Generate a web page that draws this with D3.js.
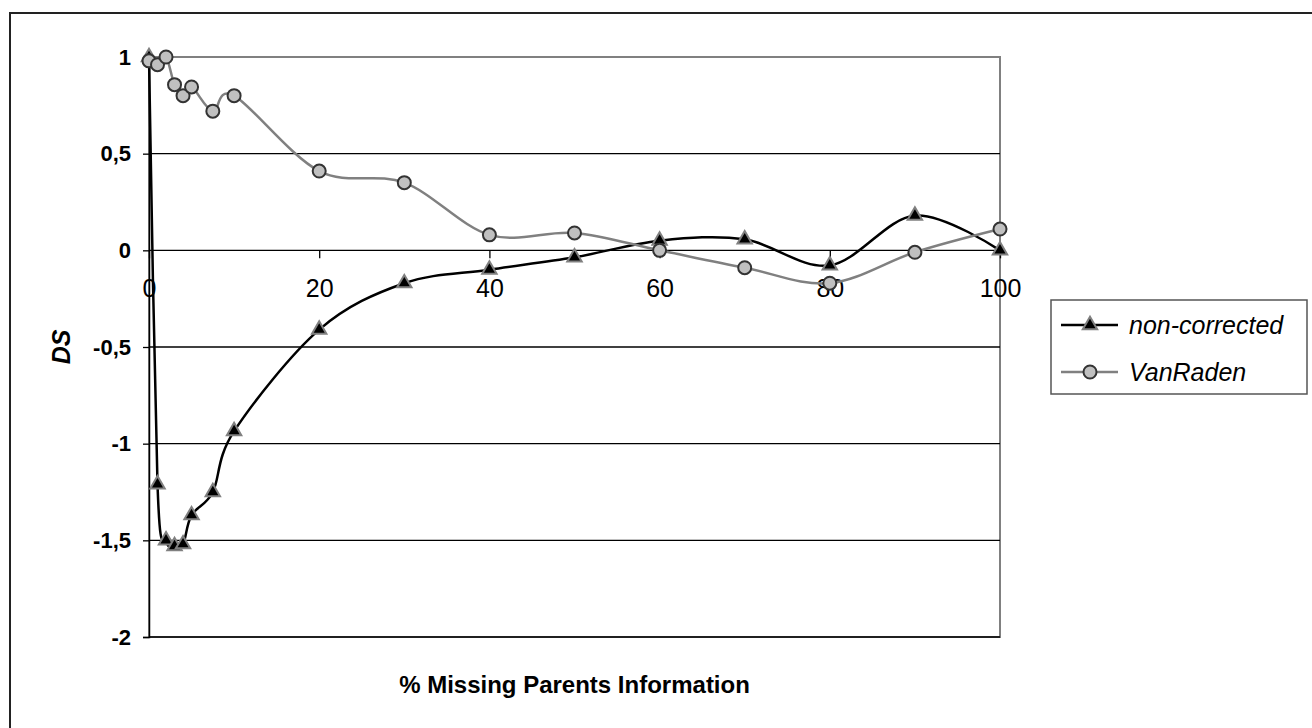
<!DOCTYPE html>
<html>
<head>
<meta charset="utf-8">
<script src="https://cdn.jsdelivr.net/npm/d3@7"></script>
<style>
  html, body { margin: 0; padding: 0; background: #fff; }
  svg { display: block; font-family: "Liberation Sans", Arial, sans-serif; }
</style>
</head>
<body>
<div id="chart"></div>
<script>
// % missing parents information
const xValues = [0, 1, 2, 3, 4, 5, 7.5, 10, 20, 30, 40, 50, 60, 70, 80, 90, 100];
const nonCorrected = [1.0, -1.21, -1.50, -1.53, -1.52, -1.37, -1.25, -0.935, -0.41, -0.17, -0.10, -0.036, 0.05, 0.057, -0.078, 0.18, 0.0];
const vanRaden = [0.98, 0.96, 1.0, 0.857, 0.80, 0.845, 0.72, 0.80, 0.41, 0.35, 0.08, 0.09, 0.0, -0.09, -0.17, -0.01, 0.11];
const xTicks = [0, 20, 40, 60, 80, 100];
const yTicks = [1, 0.5, 0, -0.5, -1, -1.5, -2];
const seriesNames = ['non-corrected', 'VanRaden'];

const width = 1312, height = 728;
const plot = { left: 149, right: 1000, top: 57, bottom: 637 };

const svg = d3.select('#chart').append('svg')
    .attr('width', width)
    .attr('height', height);

// outer chart border
svg.append('rect')
    .attr('x', 10).attr('y', 13)
    .attr('width', width + 10).attr('height', height + 10)
    .attr('fill', 'none')
    .attr('stroke', '#222')
    .attr('stroke-width', 2);

const x = d3.scaleLinear().domain([0, 100]).range([plot.left, plot.right]);
const y = d3.scaleLinear().domain([-2, 1]).range([plot.bottom, plot.top]);

// plot area border (grey)
svg.append('rect')
    .attr('x', plot.left).attr('y', plot.top)
    .attr('width', plot.right - plot.left).attr('height', plot.bottom - plot.top)
    .attr('fill', 'none')
    .attr('stroke', '#808080')
    .attr('stroke-width', 2);

// horizontal gridlines
svg.append('g')
    .selectAll('line')
    .data(yTicks.filter(d => d !== 1))
    .join('line')
    .attr('x1', plot.left).attr('x2', plot.right)
    .attr('y1', d => y(d)).attr('y2', d => y(d))
    .attr('stroke', '#000')
    .attr('stroke-width', 1.3);

// y axis
const fmt = d => String(d).replace('.', ',');
const yAxis = svg.append('g')
    .attr('transform', `translate(${plot.left},0)`)
    .call(d3.axisLeft(y).tickValues(yTicks).tickSize(6).tickPadding(12).tickFormat(fmt));
yAxis.select('.domain').attr('stroke', '#000').attr('stroke-width', 1.5);
yAxis.selectAll('.tick line').attr('stroke', '#000').attr('stroke-width', 1.3);
yAxis.selectAll('.tick text')
    .attr('fill', '#000')
    .attr('font-size', 22)
    .attr('font-weight', 'bold')
    .attr('font-family', '"Liberation Sans", Arial, sans-serif');

// x axis crossing at 0
const xAxis = svg.append('g')
    .attr('transform', `translate(0,${y(0)})`)
    .call(d3.axisBottom(x).tickValues(xTicks).tickSize(8).tickPadding(21).tickFormat(d3.format('d')));
xAxis.select('.domain').remove();
xAxis.selectAll('.tick line').attr('stroke', '#000').attr('stroke-width', 1.3);
xAxis.selectAll('.tick text')
    .attr('fill', '#000')
    .attr('font-size', 25)
    .attr('font-family', '"Liberation Sans", Arial, sans-serif');

// lines
const line = (vals) => d3.line()
    .x((d, i) => x(xValues[i]))
    .y(d => y(d))
    .curve(d3.curveCardinal.tension(0))(vals);

svg.append('path')
    .attr('d', line(nonCorrected))
    .attr('fill', 'none')
    .attr('stroke', '#000')
    .attr('stroke-width', 2.5);

const tri = d3.symbol().type(d3.symbolTriangle).size(90);
svg.append('g')
    .selectAll('path')
    .data(nonCorrected)
    .join('path')
    .attr('d', tri)
    .attr('transform', (d, i) => `translate(${x(xValues[i])},${y(d)})`)
    .attr('fill', '#000')
    .attr('stroke', '#808080')
    .attr('stroke-width', 2);

svg.append('path')
    .attr('d', line(vanRaden))
    .attr('fill', 'none')
    .attr('stroke', '#808080')
    .attr('stroke-width', 2.5);

svg.append('g')
    .selectAll('circle')
    .data(vanRaden)
    .join('circle')
    .attr('cx', (d, i) => x(xValues[i]))
    .attr('cy', d => y(d))
    .attr('r', 6.5)
    .attr('fill', '#c0c0c0')
    .attr('stroke', '#333')
    .attr('stroke-width', 2);

// axis titles
svg.append('text')
    .attr('x', (plot.left + plot.right) / 2)
    .attr('y', 693)
    .attr('text-anchor', 'middle')
    .attr('font-size', 24)
    .attr('font-weight', 'bold')
    .text('% Missing Parents Information');

svg.append('text')
    .attr('transform', `translate(70,${(plot.top + plot.bottom) / 2}) rotate(-90)`)
    .attr('text-anchor', 'middle')
    .attr('font-size', 25)
    .attr('font-weight', 'bold')
    .attr('font-style', 'italic')
    .text('DS');

// legend
const legend = svg.append('g').attr('transform', 'translate(1051,300)');
legend.append('rect')
    .attr('width', 256).attr('height', 94)
    .attr('fill', '#fff')
    .attr('stroke', '#555')
    .attr('stroke-width', 1.5);

seriesNames.forEach((name, i) => {
    const ly = 25 + i * 47;
    const g = legend.append('g').attr('transform', `translate(0,${ly})`);
    g.append('line')
        .attr('x1', 10).attr('x2', 67)
        .attr('stroke', i === 0 ? '#000' : '#808080')
        .attr('stroke-width', 2.5);
    if (i === 0) {
        g.append('path')
            .attr('d', tri)
            .attr('transform', 'translate(39,0)')
            .attr('fill', '#000')
            .attr('stroke', '#808080')
            .attr('stroke-width', 2);
    } else {
        g.append('circle')
            .attr('cx', 39).attr('r', 6.5)
            .attr('fill', '#c0c0c0')
            .attr('stroke', '#333')
            .attr('stroke-width', 2);
    }
    g.append('text')
        .attr('x', 78)
        .attr('dy', '0.35em')
        .attr('font-size', 25)
        .attr('font-style', 'italic')
        .text(name);
});
</script>
</body>
</html>
